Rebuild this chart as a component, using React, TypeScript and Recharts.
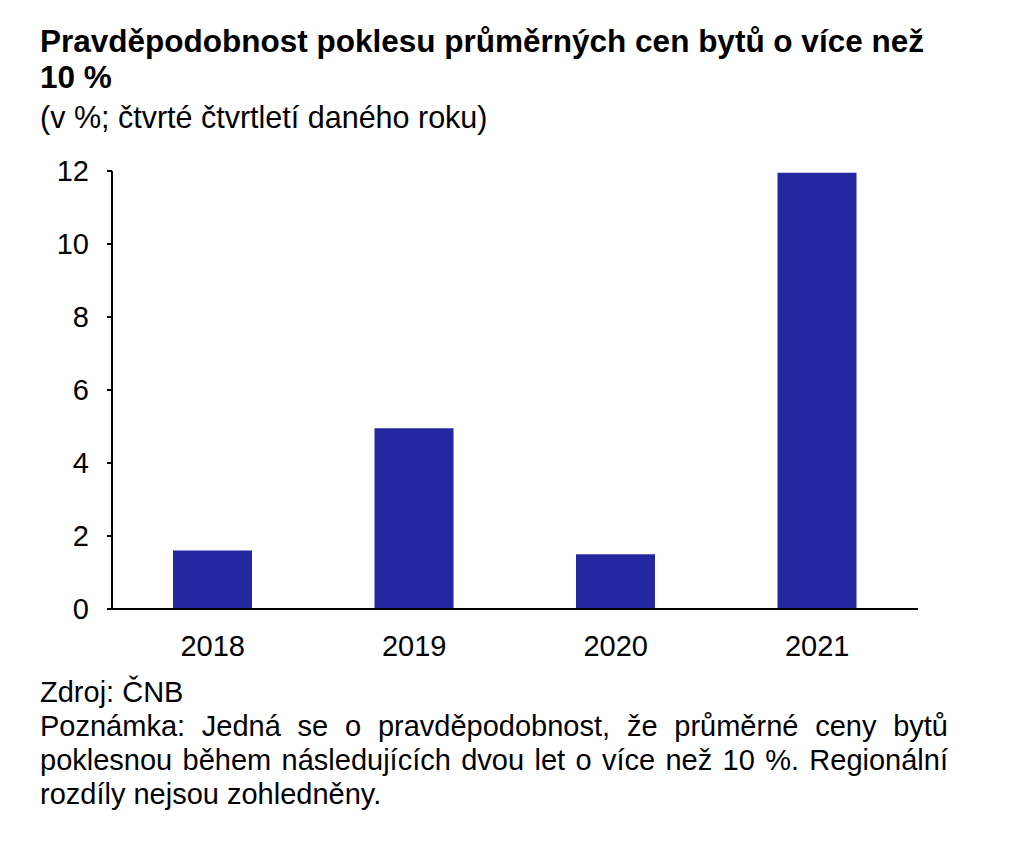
import { BarChart, Bar, XAxis, YAxis } from "recharts";

const years = ["2018", "2019", "2020", "2021"];
const probability = [1.6, 4.95, 1.5, 11.95];
const yTicks = [0, 2, 4, 6, 8, 10, 12];

const titleLines = [
  "Pravděpodobnost poklesu průměrných cen bytů o více než",
  "10 %",
];
const subtitle = "(v %; čtvrté čtvrtletí daného roku)";
const source = "Zdroj: ČNB";
const noteLines = [
  "Poznámka: Jedná se o pravděpodobnost, že průměrné ceny bytů",
  "poklesnou během následujících dvou let o více než 10 %. Regionální",
  "rozdíly nejsou zohledněny.",
];

const data = years.map((year, i) => ({ year, value: probability[i] }));

const font = "'Liberation Sans', Arial, sans-serif";
const barColor = "#2327A0";

export default function App() {
  return (
    <div
      style={{
        position: "absolute",
        left: 0,
        top: 0,
        width: 1024,
        height: 842,
        background: "#fff",
        fontFamily: font,
        color: "#000",
      }}
    >
      <div
        style={{
          position: "absolute",
          left: 40,
          top: 23,
          fontSize: 31.5,
          lineHeight: "36px",
          fontWeight: "bold",
          whiteSpace: "nowrap",
        }}
      >
        {titleLines.map((t) => (
          <div key={t}>{t}</div>
        ))}
      </div>
      <div
        style={{
          position: "absolute",
          left: 40,
          top: 100,
          fontSize: 30.5,
          lineHeight: "34px",
          whiteSpace: "nowrap",
        }}
      >
        {subtitle}
      </div>

      <div style={{ position: "absolute", left: 0, top: 150 }}>
        <BarChart
          width={940}
          height={520}
          data={data}
          margin={{ top: 21, right: 22, bottom: 21, left: 0 }}
        >
          <XAxis
            dataKey="year"
            height={40}
            tickLine={false}
            tickSize={0}
            tickMargin={26}
            axisLine={{ stroke: "#000", strokeWidth: 2 }}
            tick={{ fill: "#000", fontSize: 29, fontFamily: font }}
          />
          <YAxis
            width={112}
            domain={[0, 12]}
            ticks={yTicks}
            interval={0}
            tickSize={5}
            tickMargin={18}
            axisLine={{ stroke: "#000", strokeWidth: 2 }}
            tickLine={{ stroke: "#000", strokeWidth: 2 }}
            tick={{ fill: "#000", fontSize: 29, fontFamily: font }}
          />
          <Bar
            dataKey="value"
            fill={barColor}
            barSize={79}
            isAnimationActive={false}
          />
        </BarChart>
      </div>

      <div
        style={{
          position: "absolute",
          left: 40,
          top: 675,
          width: 908,
          fontSize: 29,
          lineHeight: "34px",
        }}
      >
        <div>{source}</div>
        {noteLines.map((t, i) => (
          <div
            key={t}
            style={{
              textAlign: "justify",
              textAlignLast: i < noteLines.length - 1 ? "justify" : "left",
              whiteSpace: i < noteLines.length - 1 ? "normal" : "nowrap",
            }}
          >
            {t}
          </div>
        ))}
      </div>
    </div>
  );
}
